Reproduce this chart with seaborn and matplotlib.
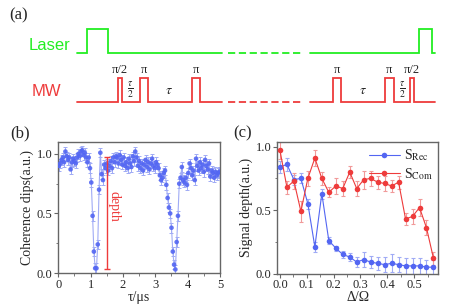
import numpy as np
import pandas as pd
import matplotlib
matplotlib.use("Agg")
import matplotlib.pyplot as plt
from matplotlib.ticker import MultipleLocator
import seaborn as sns

sns.set_theme(style="ticks")
plt.rcParams['font.family'] = ['Liberation Serif', 'DejaVu Serif']
plt.rcParams['mathtext.fontset'] = 'stix'

# ---------------- data ----------------
# panel (b): coherence dips, tau grid step 0.04 us starting at 0.02 us
coh_y = [0.90, 0.92, 0.95, 0.97, 0.93, 1.02, 0.98, 0.95, 0.97, 0.87,
         0.93, 0.96, 0.94, 0.92, 0.97, 1.00, 0.98, 1.02, 1.03, 0.99,
         1.01, 0.97, 0.93, 0.97, 0.88, 0.76, 0.48, 0.18, 0.04, 0.04,
         0.24, 0.70, 1.01, 0.83, 0.78, 0.91, 0.88, 0.92, 0.86, 0.90,
         0.94, 0.88, 0.97, 0.93, 0.98, 0.97, 0.92, 0.99, 0.95, 0.91,
         0.97, 0.90, 0.93, 0.88, 0.96, 0.92, 0.89, 0.98, 0.94, 1.02,
         0.97, 0.90, 0.94, 0.88, 0.92, 0.86, 0.91, 0.95, 0.89, 0.93,
         0.87, 0.92, 0.96, 0.90, 0.88, 0.93, 0.91, 0.88, 0.82, 0.78,
         0.80, 0.84, 0.86, 0.74, 0.63, 0.55, 0.50, 0.38, 0.18, 0.07,
         0.03, 0.26, 0.48, 0.75, 0.80, 0.89, 0.78, 0.76, 0.80, 0.74,
         0.84, 0.92, 0.88, 0.82, 0.86, 0.78, 0.96, 0.90, 0.86, 0.93,
         0.88, 0.91, 0.85, 0.95, 0.90, 0.87, 0.92, 0.81, 0.86, 0.84,
         0.80, 0.85, 0.82, 0.84, 0.85]
coh_x = [round(0.02 + 0.04 * i, 2) for i in range(len(coh_y))]
coh_err = 0.04
depth_x = 1.5
depth_range = [0.03, 0.97]

# panel (c): signal depth vs detuning
delta = [round(0.026 * i, 3) for i in range(23)]
s_rec = [0.84, 0.86, 0.74, 0.75, 0.55, 0.21, 0.63, 0.26, 0.20, 0.15, 0.13, 0.09,
         0.11, 0.09, 0.08, 0.07, 0.08, 0.07, 0.06, 0.06, 0.06, 0.05, 0.05]
s_rec_err = [0.05, 0.05, 0.04, 0.04, 0.04, 0.04, 0.04, 0.03, 0.02, 0.03, 0.03, 0.04,
             0.06, 0.05, 0.05, 0.06, 0.07, 0.06, 0.06, 0.06, 0.06, 0.06, 0.06]
s_com = [0.97, 0.68, 0.73, 0.49, 0.75, 0.91, 0.75, 0.64, 0.69, 0.67, 0.80, 0.67,
         0.74, 0.75, 0.72, 0.71, 0.69, 0.72, 0.43, 0.45, 0.52, 0.36, 0.12]
s_com_err = [0.07, 0.05, 0.06, 0.08, 0.06, 0.06, 0.05, 0.04, 0.06, 0.06, 0.05, 0.06,
             0.07, 0.06, 0.05, 0.06, 0.05, 0.05, 0.05, 0.06, 0.07, 0.06, 0.05]

# panel (a): pulse sequence (schematic time units)
seq_solid = [(77, 222), (310, 435)]
seq_dash = (228, 303)
laser_pulses = [(87, 108), (419, 432)]
mw_pulses = [(117.5, 121.5), (139.5, 148), (191.5, 200), (332.5, 341), (385, 393.5), (410, 414)]
mw_labels = ['π/2', 'π', 'π', 'π', 'π', 'π/2']
tau_labels = [(130, r'$\frac{\tau}{2}$'), (169, r'$\tau$'), (363, r'$\tau$'), (402, r'$\frac{\tau}{2}$')]

BLUE = '#5366f2'
BLUE_L = '#a0abf5'
RED = '#ee3b3b'
RED_L = '#f19a9a'
GREEN = '#22ee22'
SPINE = '#666666'

W, H = 469, 304
fig = plt.figure(figsize=(W / 100, H / 100), dpi=100)

def px_axes(l, t, r, b):
    return fig.add_axes([l / W, 1 - b / H, (r - l) / W, (b - t) / H])

# ---------------- panel (a) ----------------
axa = px_axes(0, 0, W, 110)
axa.set_xlim(0, W)
axa.set_ylim(110, 0)
axa.axis('off')

def trace(base, high, pulses, color):
    for (s, e) in seq_solid:
        xs_seg, ys_seg = [s], [base]
        for (p0, p1) in pulses:
            if s <= p0 <= e:
                xs_seg += [p0, p0, p1, p1]
                ys_seg += [base, high, high, base]
        xs_seg.append(e)
        ys_seg.append(base)
        axa.plot(xs_seg, ys_seg, color=color, lw=1.3, solid_joinstyle='miter')
    axa.plot(list(seq_dash), [base, base], color=color, lw=1.3, ls=(0, (4, 2)))

trace(52.7, 28.7, laser_pulses, GREEN)
trace(101.5, 77.7, mw_pulses, RED)
axa.text(50, 46, 'Laser', color=GREEN, fontsize=12, family='Liberation Sans', ha='center', va='center')
axa.text(46, 92, 'MW', color=RED, fontsize=12, family='Liberation Sans', ha='center', va='center')
for (p0, p1), lab in zip(mw_pulses, mw_labels):
    axa.text((p0 + p1) / 2, 70, lab, fontsize=9, ha='center', va='center')
for xpos, lab in tau_labels:
    axa.text(xpos, 90, lab, fontsize=10, ha='center', va='center')
axa.text(9, 15, '(a)', fontsize=12, ha='left', va='center')

# ---------------- panel (b) ----------------
axb = px_axes(58.3, 142, 220, 273)
dfb = pd.DataFrame({'tau': coh_x, 'coh': coh_y})
axb.errorbar(coh_x, coh_y, yerr=coh_err, fmt='none', ecolor=BLUE_L, elinewidth=0.7, capsize=1.2, capthick=0.7, zorder=2)
sns.lineplot(data=dfb, x='tau', y='coh', ax=axb, color=BLUE_L, lw=0.8, zorder=2)
sns.scatterplot(data=dfb, x='tau', y='coh', ax=axb, color=BLUE, s=11, edgecolor='none', alpha=0.9, zorder=3)
axb.errorbar([depth_x], [np.mean(depth_range)], yerr=[[np.mean(depth_range) - depth_range[0]], [depth_range[1] - np.mean(depth_range)]],
             fmt='none', ecolor=RED, elinewidth=1.0, capsize=2, capthick=1.0, zorder=4)
axb.text(1.72, 0.56, 'depth', color=RED, rotation=-90, fontsize=10, ha='center', va='center')
axb.set_xlim(0, 5)
axb.set_ylim(0, 1.1)
axb.xaxis.set_major_locator(MultipleLocator(1))
axb.xaxis.set_minor_locator(MultipleLocator(0.5))
axb.yaxis.set_major_locator(MultipleLocator(0.5))
axb.yaxis.set_minor_locator(MultipleLocator(0.25))
axb.set_xlabel('τ/μs', fontsize=10, labelpad=0)
axb.set_ylabel('Coherence dips(a.u.)', fontsize=10, labelpad=2)
fig.text(10 / W, 1 - 133 / H, '(b)', fontsize=12, ha='left', va='center')

# ---------------- panel (c) ----------------
axc = px_axes(277, 142, 438.3, 273.5)
dfc = pd.DataFrame({'delta': delta * 2, 'depth': s_rec + s_com,
                    'series': ['Rec'] * len(delta) + ['Com'] * len(delta)})
axc.errorbar(delta, s_rec, yerr=s_rec_err, fmt='none', ecolor=BLUE_L, elinewidth=0.8, capsize=1.5, capthick=0.8, zorder=2)
axc.errorbar(delta, s_com, yerr=s_com_err, fmt='none', ecolor=RED_L, elinewidth=0.8, capsize=1.5, capthick=0.8, zorder=2)
sns.lineplot(data=dfc, x='delta', y='depth', hue='series', hue_order=['Rec', 'Com'],
             palette={'Rec': BLUE, 'Com': RED}, marker='o', markersize=4, markeredgewidth=0,
             lw=0.8, ax=axc, zorder=3)
axc.set_xlim(-0.011, 0.59)
axc.set_ylim(0, 1.037)
axc.xaxis.set_major_locator(MultipleLocator(0.1))
axc.xaxis.set_minor_locator(MultipleLocator(0.05))
axc.yaxis.set_major_locator(MultipleLocator(0.5))
axc.yaxis.set_minor_locator(MultipleLocator(0.25))
axc.set_xlabel('Δ/Ω', fontsize=10, labelpad=0)
axc.set_ylabel('Signal depth(a.u.)', fontsize=10, labelpad=2)
h, _ = axc.get_legend_handles_labels()
axc.legend(h, [r'S$_{\mathrm{Rec}}$', r'S$_{\mathrm{Com}}$'], loc='upper right', frameon=False,
           fontsize=10, handlelength=2.2, borderaxespad=0.2, labelspacing=0.2, handletextpad=0.3,
           borderpad=0.2)
fig.text(233 / W, 1 - 133 / H, '(c)', fontsize=12, ha='left', va='center')

for ax in (axb, axc):
    for sp in ax.spines.values():
        sp.set_color(SPINE)
        sp.set_linewidth(1.0)
        sp.set_visible(True)
    ax.tick_params(which='major', direction='out', length=3, width=0.8, color=SPINE, labelsize=9, pad=1)
    ax.tick_params(which='minor', direction='out', length=1.8, width=0.6, color=SPINE)
    ax.tick_params(top=False, right=False)

fig.savefig('out.png', dpi=100)
